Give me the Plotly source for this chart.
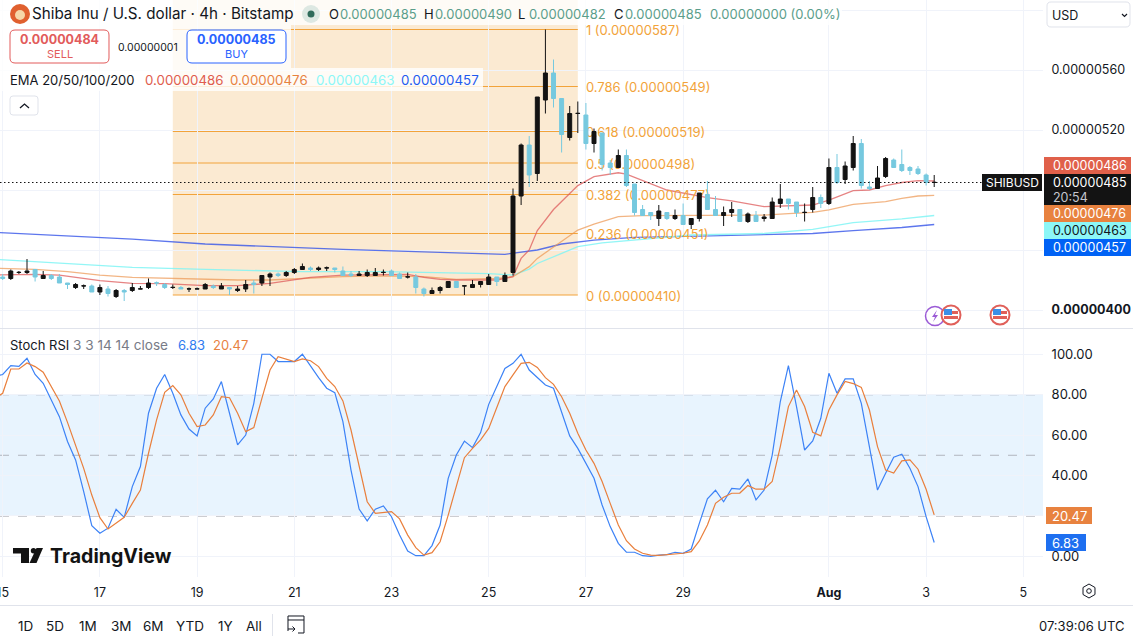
#!/usr/bin/env python3
"""
SHIB/USD 4h TradingView snapshot: candles, EMAs, fib retracement and Stoch RSI.
"""

import plotly.graph_objects as go

W, H = 1133, 636
FONT = 'Inter, Roboto, sans-serif'
TEXT = '#131722'
GRID = '#F0F3FA'
BLACK = '#131313'
CYAN = '#76C9DF'
RED = '#E05D4E'
ORANGE = '#E8823F'
AQUA = '#8CF7F7'
BLUE = '#2962FF'
FIB = '#F2A33A'

# prices are in units of 0.00000001 USD
# a doji gets a 0.1 offset so that plotly colours it by the direction shown
candle_index = list(range(116))
opens = [422, 421, 425, 425, 427, 421, 423, 422, 418, 415, 416, 416, 412, 414, 409, 413,
         413, 414, 415, 418.1, 417, 415, 415, 414, 414, 414, 416, 414, 415, 413, 414, 418,
         418, 422, 424, 423, 425, 427, 428, 427, 428, 428, 426, 424, 423, 423, 423, 425,
         426, 424, 422, 422, 414, 411, 413, 415, 419, 416, 415, 417, 417, 422, 419, 425,
         476, 510, 491, 540, 558, 541, 515, 531, 530, 511, 518, 498, 495, 503, 484, 467,
         465, 461, 465, 461, 463, 457, 461, 477, 467, 463, 465, 467, 459, 463, 461, 461,
         471, 474, 472, 465, 467, 475, 471, 495, 487, 495, 511, 482, 481, 489, 500, 497,
         495, 494, 490, 485]
highs = [424, 427, 426, 434, 427, 426, 424, 424, 418, 418, 417, 417, 417, 416, 414, 414,
         418, 416, 421, 419, 418, 417, 416, 415, 415, 418, 417, 418, 415, 416, 420, 420,
         423, 425, 425, 426, 428, 431, 429, 429, 429, 428, 429, 426, 426, 427, 428, 427,
         427, 425, 425, 424, 415, 415, 416, 419, 419, 416, 420, 419, 424, 422, 425, 481,
         511, 516, 542, 587, 567, 541, 536, 539, 538, 521, 518, 500, 507, 507, 484, 470,
         465, 470, 465, 467, 471, 461, 478, 486, 476, 469, 472, 467, 465, 466, 464, 475,
         484, 474, 472, 471, 482, 477, 501, 504, 499, 516, 514, 486, 496, 502, 501, 507,
         496, 496, 491, 490]
lows = [420, 420, 424, 424, 419, 421, 420, 418, 414, 414, 414, 412, 410, 409, 408, 406,
        412, 414, 414, 416, 414, 414, 414, 412, 414, 414, 414, 414, 410, 412, 412, 411,
        416, 416, 422, 422, 424, 427, 426, 426, 426, 425, 423, 422, 423, 422, 423, 423,
        423, 421, 421, 411, 409, 411, 411, 415, 415, 410, 415, 415, 417, 416, 419, 423,
        470, 482, 486, 531, 535, 505, 513, 518, 507, 505, 493, 490, 495, 482, 463, 463,
        460, 456, 460, 460, 457, 454, 459, 467, 463, 456, 462, 459, 458, 459, 459, 461,
        468, 467, 462, 459, 465, 468, 470, 484, 484, 493, 481, 480, 481, 488, 495, 492,
        490, 490, 483, 482]
closes = [421, 426, 425.1, 426, 422, 423, 421, 418, 417, 417, 416.1, 412, 415, 411, 413, 412,
          415, 414.1, 418, 418, 415, 415.1, 414, 414.1, 414.1, 417, 415, 416, 414, 414, 417, 417,
          423, 424, 423, 425, 427, 429, 427, 428, 428.1, 427, 423, 423, 424, 425, 425, 425.1,
          423, 421, 422.1, 415, 411, 413, 415, 419, 415, 416.1, 417, 419, 422, 419, 423, 476,
          510, 490, 542, 558, 541, 517, 531, 531.1, 511, 519, 497, 495, 503, 483, 465, 463,
          463, 466, 461, 463, 457, 461, 478, 467, 463, 465, 467, 459, 464, 459, 462, 472,
          474, 471, 465, 465.1, 475, 471, 495, 485, 496, 511, 483, 481, 488, 501, 495, 493,
          493, 491, 485, 485.1]

# EMAs, read off at the candle indexes where the curve could be measured
# (index -1 is the candle just off the left edge)
ema20_x = [-1, 4, 7, 12, 16, 20, 25, 29, 33, 38, 42, 47, 50, 52, 54, 56, 59, 61, 63, 64, 65, 66,
           68, 69, 71, 73, 76, 77, 79, 82, 87, 90, 94, 97, 100, 102, 105, 107, 109, 111, 113, 115]
ema20 = [423.3, 423.8, 423.3, 419.6, 417.8, 417.6, 416.2, 416.2, 417.8, 421.8, 423.3, 423.8,
         423.8, 421.8, 420.4, 420, 420, 420, 422.2, 434.4, 440, 453, 467, 472.2, 482.9, 488.9,
         491.5, 490.6, 486.2, 480, 474.9, 472.7, 468.9, 469.3, 470, 473.3, 479.6, 480, 482.9,
         485, 486.2, 486]
ema50_x = [-1, 4, 8, 12, 16, 20, 25, 29, 33, 38, 42, 47, 50, 52, 56, 61, 63, 65, 66, 69, 71, 73,
           76, 79, 82, 87, 94, 97, 100, 102, 105, 109, 111, 113, 115]
ema50 = [427.8, 427.1, 425.6, 423.3, 421.8, 421.1, 420.4, 420, 420, 421.1, 422.2, 422.7, 422.7,
         422.2, 420.4, 421, 422.2, 428.9, 434.4, 445.5, 453.3, 457.3, 462.2, 462.9, 462.9,
         462.9, 463.3, 464.2, 465.1, 466.7, 470.4, 472.2, 474.4, 476, 476.4]
ema100_x = [-1, 8, 16, 25, 33, 37, 47, 53, 60, 63, 65, 66, 71, 74, 80, 85, 94, 100, 105, 111, 115]
ema100 = [433.8, 431.1, 428.4, 427.1, 426, 425.6, 425.6, 424.9, 424.2, 423.3, 427.3, 431, 442.2,
          444.7, 447.5, 450, 451, 453.8, 458.2, 460.7, 463]
ema200_x = [-1, 8, 16, 25, 33, 37, 42, 51, 57, 62, 66, 69, 73, 78, 86, 94, 100, 105, 111, 115]
ema200 = [451.8, 449.6, 447.3, 444, 442.2, 441.1, 440.4, 438.9, 437.8, 437.1, 440, 444, 446.6,
          448.4, 449.3, 450, 451, 452.9, 455, 457]

# Stoch RSI, one value per candle plus the one just off the left edge
stoch_x = list(range(-1, 116))
stoch_k = [89, 90, 94.4, 94, 98, 90, 85.6, 77.4, 69.1, 56.8, 47.7, 32, 15.2, 11.4, 13.9, 23.3, 19.3,
           34.5, 44.4, 70.8, 83.2, 90, 80.7, 70, 63, 59.6, 73.3, 77.9, 86.5, 70.8, 55.1, 60, 75.7,
           100, 100, 96.4, 96.4, 96.4, 100, 93.9, 88.4, 83.2, 81, 66.7, 42.7, 23.4, 17.5, 23.3,
           24.9, 19.6, 10.5, 2.6, 0.3, 0.3, 5.3, 15.5, 38.6, 50.1, 57, 53.8, 61.2, 75.2, 84, 93,
           95.5, 100, 92.2, 88.4, 84.8, 83.2, 71.6, 59.6, 53.4, 46, 38.6, 25.4, 14.7, 6.4, 2, 2,
           0.3, 0, 0.6, 0.8, 2, 1.5, 3.6, 16.3, 28.4, 32.7, 27, 33.6, 33.2, 38.3, 27.9, 32.8, 50.1,
           76.6, 94.4, 74.1, 52.6, 57.1, 68.3, 90.6, 80.7, 87.8, 87.8, 75.7, 53.5, 32.8, 41.1, 49,
           50.5, 43.6, 34.5, 19.6, 6.83]
stoch_d = [78, 80.7, 92.7, 92.7, 95.7, 93.9, 91.1, 84, 76.9, 66.3, 55.1, 43.5, 30.3, 19.1, 13.5, 16.3,
           19.3, 26.2, 32.8, 51, 67.5, 81.2, 84.5, 79.9, 70.8, 64.2, 65, 70, 79, 78.5, 70.8, 61.7,
           63.7, 78.2, 92.2, 98.8, 97.7, 96.4, 97.7, 96.8, 93.9, 88.1, 84, 76.9, 62.5, 45.2, 27,
           21.3, 21.8, 22.1, 18.5, 10.5, 4.3, 0.6, 1.8, 7.2, 20.4, 35.3, 48.8, 53.4, 57.6, 63.3,
           74.1, 84, 89.8, 95.5, 96, 93.5, 88.4, 85.1, 79, 70.8, 60.9, 52.6, 46, 37, 26.2, 15.5,
           7.7, 3.6, 1.5, 0.6, 0.5, 0.8, 1.3, 1.5, 2.3, 7.6, 15.5, 26.2, 29.2, 31.2, 31.3, 35, 33.2,
           33.2, 37, 54.3, 74.1, 82.3, 74.1, 61.4, 59.6, 72.4, 79.9, 86.5, 85.5, 83.6, 72.4, 54.3,
           42.7, 41.2, 47.2, 47.7, 43.1, 33.2, 20.47]

fib_ratios = ['0', '0.236', '0.382', '0.5', '0.618', '0.786', '1']
fib_prices = [410, 451, 477, 498, 519, 549, 587]
fib_start, fib_end = 21, 71

date_ticks = [0, 12, 24, 36, 48, 60, 72, 84, 102, 114, 126]
date_labels = ['15', '17', '19', '21', '23', '25', '27', '29', '<b>Aug</b>', '3', '5']
price_ticks = [400, 440, 480, 520, 560, 600]
price_labels = ['<b>0.00000400</b>', '', '', '0.00000520', '0.00000560', '']
stoch_ticks = [0, 20, 40, 60, 80, 100]
stoch_labels = ['0.00', '', '40.00', '60.00', '80.00', '100.00']
last_price = 485


def X(px):
    return px / W


def Y(py):
    return 1 - py / H


def price_text(p):
    return f'{p / 1e8:.8f}'


fig = go.Figure()

# EMAs and fib labels sit on the base subplot, the candles on an overlay above them
fig.add_trace(go.Scatter(x=ema200_x, y=ema200, mode='lines', line=dict(color='rgba(52,84,232,0.8)', width=1.3)))
fig.add_trace(go.Scatter(x=ema100_x, y=ema100, mode='lines', line=dict(color='rgba(128,244,244,0.85)', width=1.3)))
fig.add_trace(go.Scatter(x=ema50_x, y=ema50, mode='lines', line=dict(color='rgba(236,150,80,0.7)', width=1.3)))
fig.add_trace(go.Scatter(x=ema20_x, y=ema20, mode='lines', line=dict(color='rgba(222,90,90,0.75)', width=1.3)))
fig.add_trace(go.Scatter(
    x=[fib_end + 1] * len(fib_prices),
    y=[p - 1.5 for p in fib_prices],  # plotly centres text a little high
    mode='text',
    text=[f'{r} ({price_text(p)})' for r, p in zip(fib_ratios, fib_prices)],
    textposition='middle right',
    textfont=dict(family=FONT, size=13, color=FIB),
))

fig.add_trace(go.Candlestick(
    x=candle_index, open=opens, high=highs, low=lows, close=closes,
    yaxis='y3',
    whiskerwidth=0,
    increasing=dict(line=dict(color=BLACK, width=1), fillcolor=BLACK),
    decreasing=dict(line=dict(color=CYAN, width=1), fillcolor=CYAN),
))

fig.add_trace(go.Scatter(x=stoch_x, y=stoch_k, yaxis='y2', mode='lines', line=dict(color='#3C82F6', width=1.2)))
fig.add_trace(go.Scatter(x=stoch_x, y=stoch_d, yaxis='y2', mode='lines', line=dict(color='#E97F3C', width=1.2)))

shapes = []

# fib retracement
shapes.append(dict(type='rect', xref='x', yref='y', x0=fib_start, x1=fib_end, y0=fib_prices[0], y1=606.67,
                   fillcolor='rgba(238,158,50,0.22)', line=dict(width=0), layer='below'))
for p in fib_prices:
    shapes.append(dict(type='line', xref='x', yref='y', x0=fib_start, x1=fib_end, y0=p, y1=p,
                       line=dict(color=FIB, width=1), layer='below'))

# last price line
shapes.append(dict(type='line', xref='paper', yref='y', x0=0, x1=X(983), y0=last_price, y1=last_price,
                   line=dict(color=BLACK, width=1, dash='1.5px,2.5px'), layer='above'))

# stoch band
shapes.append(dict(type='rect', xref='paper', yref='y2', x0=0, x1=X(1043), y0=20, y1=80,
                   fillcolor='rgba(33,150,243,0.1)', line=dict(width=0), layer='below'))
for level, col in [(80, '#787B86'), (50, '#B2B5BE'), (20, '#787B86')]:
    shapes.append(dict(type='line', xref='paper', yref='y2', x0=0, x1=X(1043), y0=level, y1=level,
                       line=dict(color=col, width=1, dash='dash'), layer='below'))


def rect(x0, y0, x1, y1, fill='rgba(0,0,0,0)', line=None, lw=1):
    shapes.append(dict(type='rect', xref='paper', yref='paper', x0=X(x0), x1=X(x1), y0=Y(y0), y1=Y(y1),
                       fillcolor=fill, line=dict(color=line, width=lw) if line else dict(width=0), layer='above'))


def circle(cx, cy, r, fill, line=None, lw=1):
    shapes.append(dict(type='circle', xref='paper', yref='paper', x0=X(cx - r), x1=X(cx + r), y0=Y(cy - r), y1=Y(cy + r),
                       fillcolor=fill, line=dict(color=line, width=lw) if line else dict(width=0), layer='above'))


def poly(points, fill='rgba(0,0,0,0)', line=None, lw=1, closed=True):
    path = 'M ' + ' L '.join(f'{X(a):.5f},{Y(b):.5f}' for a, b in points) + (' Z' if closed else '')
    shapes.append(dict(type='path', xref='paper', yref='paper', path=path, fillcolor=fill,
                       line=dict(color=line, width=lw) if line else dict(width=0), layer='above'))


def round_box(x0, y0, x1, y1, r, line, fill='white'):
    p = (f'M {X(x0 + r):.5f},{Y(y0):.5f} L {X(x1 - r):.5f},{Y(y0):.5f} Q {X(x1):.5f},{Y(y0):.5f} {X(x1):.5f},{Y(y0 + r):.5f} '
         f'L {X(x1):.5f},{Y(y1 - r):.5f} Q {X(x1):.5f},{Y(y1):.5f} {X(x1 - r):.5f},{Y(y1):.5f} '
         f'L {X(x0 + r):.5f},{Y(y1):.5f} Q {X(x0):.5f},{Y(y1):.5f} {X(x0):.5f},{Y(y1 - r):.5f} '
         f'L {X(x0):.5f},{Y(y0 + r):.5f} Q {X(x0):.5f},{Y(y0):.5f} {X(x0 + r):.5f},{Y(y0):.5f} Z')
    shapes.append(dict(type='path', xref='paper', yref='paper', path=p, fillcolor=fill,
                       line=dict(color=line, width=1), layer='above'))


def label(px, py, text, size=13, color=TEXT, anchor='left'):
    fig.add_annotation(xref='paper', yref='paper', x=X(px), y=Y(py), text=text, showarrow=False,
                       xanchor=anchor, yanchor='middle', align=anchor, borderpad=0, borderwidth=0,
                       font=dict(family=FONT, size=size, color=color))


# frosted legend rows
rect(0, 0, 842, 25, 'rgba(255,255,255,0.8)')
rect(0, 25, 291, 68, 'rgba(255,255,255,0.8)')
rect(0, 68, 483, 91, 'rgba(255,255,255,0.8)')

# header row
circle(20, 14, 10, '#E0602F')
circle(20, 15, 5, '#F6D7A8')
label(32, 14, 'Shiba Inu / U.S. dollar · 4h · Bitstamp', 15.2)
circle(311, 14, 9, '#DDE8E2')
circle(311, 14, 3.5, '#2F6B5A')
GREEN = '#5B9E8B'
for lx, vx, letter, val in [(329, 340, 'O', 485), (424, 435, 'H', 490), (518, 529, 'L', 482), (614, 625, 'C', 485)]:
    label(lx, 14, letter, 13)
    label(vx, 14, price_text(val), 13, GREEN)
label(710, 14, '0.00000000 (0.00%)', 13, GREEN)

# sell / buy
round_box(10, 30, 109, 63, 5, '#E25B5B')
label(59.5, 40, f'<b>{price_text(484)}</b>', 12.5, '#E25B5B', 'center')
label(59.5, 54, 'SELL', 11, '#E25B5B', 'center')
label(148, 47, '0.00000001', 10.5, TEXT, 'center')
round_box(187, 30, 286, 63, 5, BLUE)
label(236.5, 40, f'<b>{price_text(485)}</b>', 12.5, BLUE, 'center')
label(236.5, 54, 'BUY', 11, BLUE, 'center')

# EMA legend
label(10, 80, 'EMA 20/50/100/200', 13)
label(145, 80, price_text(486), 13.3, RED)
label(230, 80, price_text(476), 13.3, ORANGE)
label(316, 80, price_text(463), 13.3, AQUA)
label(401, 80, price_text(457), 13.3, '#1E5BF0')

# collapse button
round_box(10, 96, 38, 115, 3, '#E0E3EB')
poly([(20, 108), (24.5, 104), (29, 108)], line=TEXT, lw=1.3, closed=False)

# USD selector
round_box(1047, 2, 1130, 27, 4, '#E0E3EB')
label(1052, 15, 'USD', 12.5)
poly([(1122, 14), (1124.5, 16.5), (1127, 14)], line=TEXT, lw=1.2, closed=False)

# price axis badges
rect(982, 174, 1042, 191, BLACK)
label(1012, 182.5, 'SHIBUSD', 12, 'white', 'center')
rect(1044, 157, 1131, 174, '#E0604A')
label(1053, 165.5, price_text(486), 12.5, 'white')
rect(1044, 174, 1131, 205, BLACK)
label(1053, 182.5, price_text(485), 12.5, 'white')
label(1053, 197, '20:54', 12.5, '#C4C6CE')
rect(1044, 205, 1131, 222, ORANGE)
label(1053, 213.5, price_text(476), 12.5, 'white')
rect(1044, 222, 1131, 239, AQUA)
label(1053, 230.5, price_text(463), 12.5, TEXT)
rect(1044, 239, 1131, 256, '#0062F5')
label(1053, 247.5, price_text(457), 12.5, 'white')

# event icons
circle(935, 316, 9.5, 'white', '#9B5BD6', 1.5)
poly([(937, 310), (932, 317), (935, 317), (933, 322), (938, 315), (935, 315)], '#9B5BD6')
for cx in [951, 1000]:
    circle(cx, 315, 9.5, 'white', '#E0605A', 2)
    rect(cx - 7, 309, cx + 1, 315, '#3B8FE8')
    rect(cx + 1, 311, cx + 7, 314, '#E0605A')
    rect(cx - 7, 316, cx + 7, 319, '#E0605A')

# stoch legend and badges
label(10, 345, 'Stoch RSI', 13)
label(72.5, 345, '3 3 14 14 close', 13.6, '#787B86')
label(178, 345, '6.83', 13, '#2E7BF0')
label(213, 345, '20.47', 13, ORANGE)
rect(1046, 507, 1092, 524, ORANGE)
label(1052, 515.5, '20.47', 13, 'white')
rect(1046, 534, 1086, 551, '#1E6FF0')
label(1052, 542.5, '6.83', 13, 'white')

# TradingView logo
poly([(13, 548), (29, 548), (29, 563), (21, 563), (21, 553.5), (13, 553.5)], BLACK)
circle(33.5, 550.8, 2.7, BLACK)
poly([(36.5, 548), (43, 548), (36.5, 563), (29.5, 563)], BLACK)
label(50, 556, '<b>TradingView</b>', 19.6, BLACK)

# pane dividers
rect(0, 328, W, 329, '#E0E3EB')
rect(0, 605, W, 606, '#E0E3EB')
rect(272, 614, 273, 636, '#E0E3EB')

# bottom toolbar
for cx, name in [(25, '1D'), (55, '5D'), (88, '1M'), (121, '3M'), (153, '6M'), (190, 'YTD'), (225, '1Y'), (254, 'All')]:
    label(cx, 626, name, 13.5, TEXT, 'center')
label(1125, 626, '07:39:06 UTC', 13, TEXT, 'right')
poly([(288, 631), (288, 616), (304, 616), (304, 633), (298, 633)], line=TEXT, lw=1, closed=False)
poly([(288, 620), (304, 620)], line=TEXT, lw=1, closed=False)
poly([(288, 629), (295, 629)], line=TEXT, lw=1, closed=False)
poly([(292.5, 626.5), (295, 629), (292.5, 631.5)], line=TEXT, lw=1, closed=False)

# scale settings
poly([(1089, 584), (1095, 587.5), (1095, 594.5), (1089, 598), (1083, 594.5), (1083, 587.5)], line=TEXT, lw=1)
circle(1089, 591, 2.3, 'rgba(0,0,0,0)', TEXT, 1)

fig.update_layout(
    width=W,
    height=H,
    margin=dict(l=0, r=0, t=0, b=0, autoexpand=False),
    paper_bgcolor='white',
    plot_bgcolor='white',
    showlegend=False,
    hovermode=False,
    font=dict(family=FONT, color=TEXT),
    shapes=shapes,
    xaxis=dict(
        domain=[0, X(1043)],
        range=[-0.333, 128.43],
        anchor='y2',
        tickmode='array',
        tickvals=date_ticks,
        ticktext=date_labels,
        ticks='outside',
        ticklen=4,
        tickcolor='rgba(0,0,0,0)',
        tickfont=dict(family=FONT, size=12.5, color=TEXT),
        ticklabeloverflow='allow',
        automargin=False,
        showgrid=True,
        gridcolor=GRID,
        gridwidth=1,
        zeroline=False,
        showline=False,
        rangeslider=dict(visible=False),
    ),
    yaxis=dict(
        domain=[Y(328), 1],
        range=[388, 606.67],
        side='right',
        anchor='x',
        tickmode='array',
        tickvals=price_ticks,
        ticktext=price_labels,
        ticks='outside',
        ticklen=5,
        tickcolor='rgba(0,0,0,0)',
        tickfont=dict(family=FONT, size=12.5, color=TEXT),
        showgrid=True,
        gridcolor=GRID,
        zeroline=False,
        showline=False,
        automargin=False,
    ),
    yaxis3=dict(
        overlaying='y',
        range=[388, 606.67],
        side='right',
        anchor='x',
        showgrid=False,
        zeroline=False,
        showticklabels=False,
        ticks='',
    ),
    yaxis2=dict(
        domain=[Y(577), Y(329)],
        range=[-10.25, 112.5],
        side='right',
        anchor='x',
        tickmode='array',
        tickvals=stoch_ticks,
        ticktext=stoch_labels,
        ticks='outside',
        ticklen=5,
        tickcolor='rgba(0,0,0,0)',
        tickfont=dict(family=FONT, size=13, color=TEXT),
        showgrid=True,
        gridcolor=GRID,
        zeroline=False,
        showline=False,
        automargin=False,
    ),
)

fig.write_html('out.html', config={'displayModeBar': False, 'responsive': False},
               post_script="document.body.style.margin='0';document.documentElement.style.overflow='hidden';")
